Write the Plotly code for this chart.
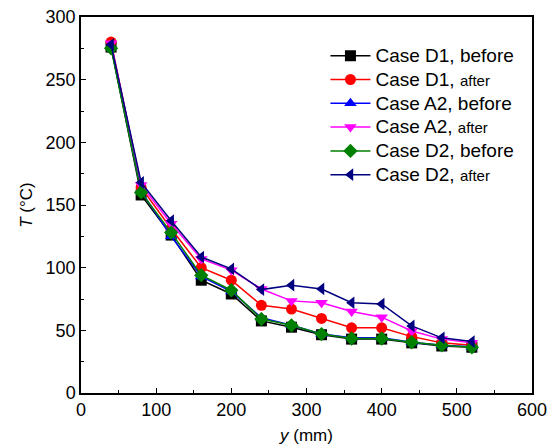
import plotly.graph_objects as go

y_mm = [40, 80, 120, 160, 200, 240, 280, 320, 360, 400, 440, 480, 520]

d1_before = [276, 158, 126, 90, 79, 57.5, 52.5, 46.5, 43, 43, 40, 37.5, 36.5]
d1_after = [280, 164, 131, 100, 90, 70, 67, 59.5, 52, 52, 45, 40, 38]
a2_before = [277, 161, 125, 93, 81, 60, 54, 47, 44, 44, 40.5, 38, 37]
a2_after = [279, 166, 135, 107, 98, 83, 73.5, 72, 65, 60.5, 49.5, 43, 40]
d2_before = [275, 160, 128, 94, 82, 59, 54, 47, 43.5, 43.5, 40.5, 38, 36.5]
d2_after = [278, 168, 137.5, 108.5, 99, 82.5, 86, 83, 72, 71, 53.5, 44, 41]

def big(s):
    return '<span style="font-size:19px">' + s + '</span>'

small = '<span style="font-size:15px">after</span>'
series = [
    (big("Case D1, before"), d1_before, "black", "square"),
    (big("Case D1, ") + small, d1_after, "red", "circle"),
    (big("Case A2, before"), a2_before, "blue", "triangle-up"),
    (big("Case A2, ") + small, a2_after, "magenta", "triangle-down"),
    (big("Case D2, before"), d2_before, "green", "diamond"),
    (big("Case D2, ") + small, d2_after, "navy", "triangle-left"),
]

fig = go.Figure()
for name, vals, color, sym in series:
    fig.add_trace(go.Scatter(
        x=y_mm, y=vals, name=name, mode="lines+markers",
        line=dict(color=color, width=1.5),
        marker=dict(symbol=sym, size=11, color=color),
    ))

font = "Liberation Sans, Arial, sans-serif"
fig.update_layout(
    width=556, height=448,
    margin=dict(l=73, r=32, t=9, b=63, autoexpand=False),
    plot_bgcolor="white", paper_bgcolor="white",
    font=dict(family=font, size=18, color="black"),
    showlegend=True,
    legend=dict(x=0.542, y=0.942, xanchor="left", yanchor="top",
                bgcolor="rgba(0,0,0,0)", font=dict(size=16),
                tracegroupgap=0, itemwidth=40),
    xaxis=dict(
        range=[0, 600], tickvals=[0, 100, 200, 300, 400, 500, 600],
        ticks="inside", ticklen=5, tickwidth=1, tickcolor="black",
        minor=dict(dtick=50, ticks="inside", ticklen=3, tickcolor="black", showgrid=False),
        showline=True, linecolor="black", linewidth=1.5, mirror=True,
        showgrid=False, zeroline=False, automargin=False, ticklabeloverflow="allow",
        title=dict(text="<i>y</i> (mm)", font=dict(size=17), standoff=10),
    ),
    yaxis=dict(
        range=[0, 300], tickvals=[0, 50, 100, 150, 200, 250, 300],
        ticks="inside", ticklen=5, tickwidth=1, tickcolor="black",
        minor=dict(dtick=25, ticks="inside", ticklen=3, tickcolor="black", showgrid=False),
        showline=True, linecolor="black", linewidth=1.5, mirror=True,
        showgrid=False, zeroline=False, automargin=False, ticklabeloverflow="allow",
        title=dict(text="<i>T</i> (°C)", font=dict(size=17), standoff=9),
    ),
)

fig.write_html("out.html")
